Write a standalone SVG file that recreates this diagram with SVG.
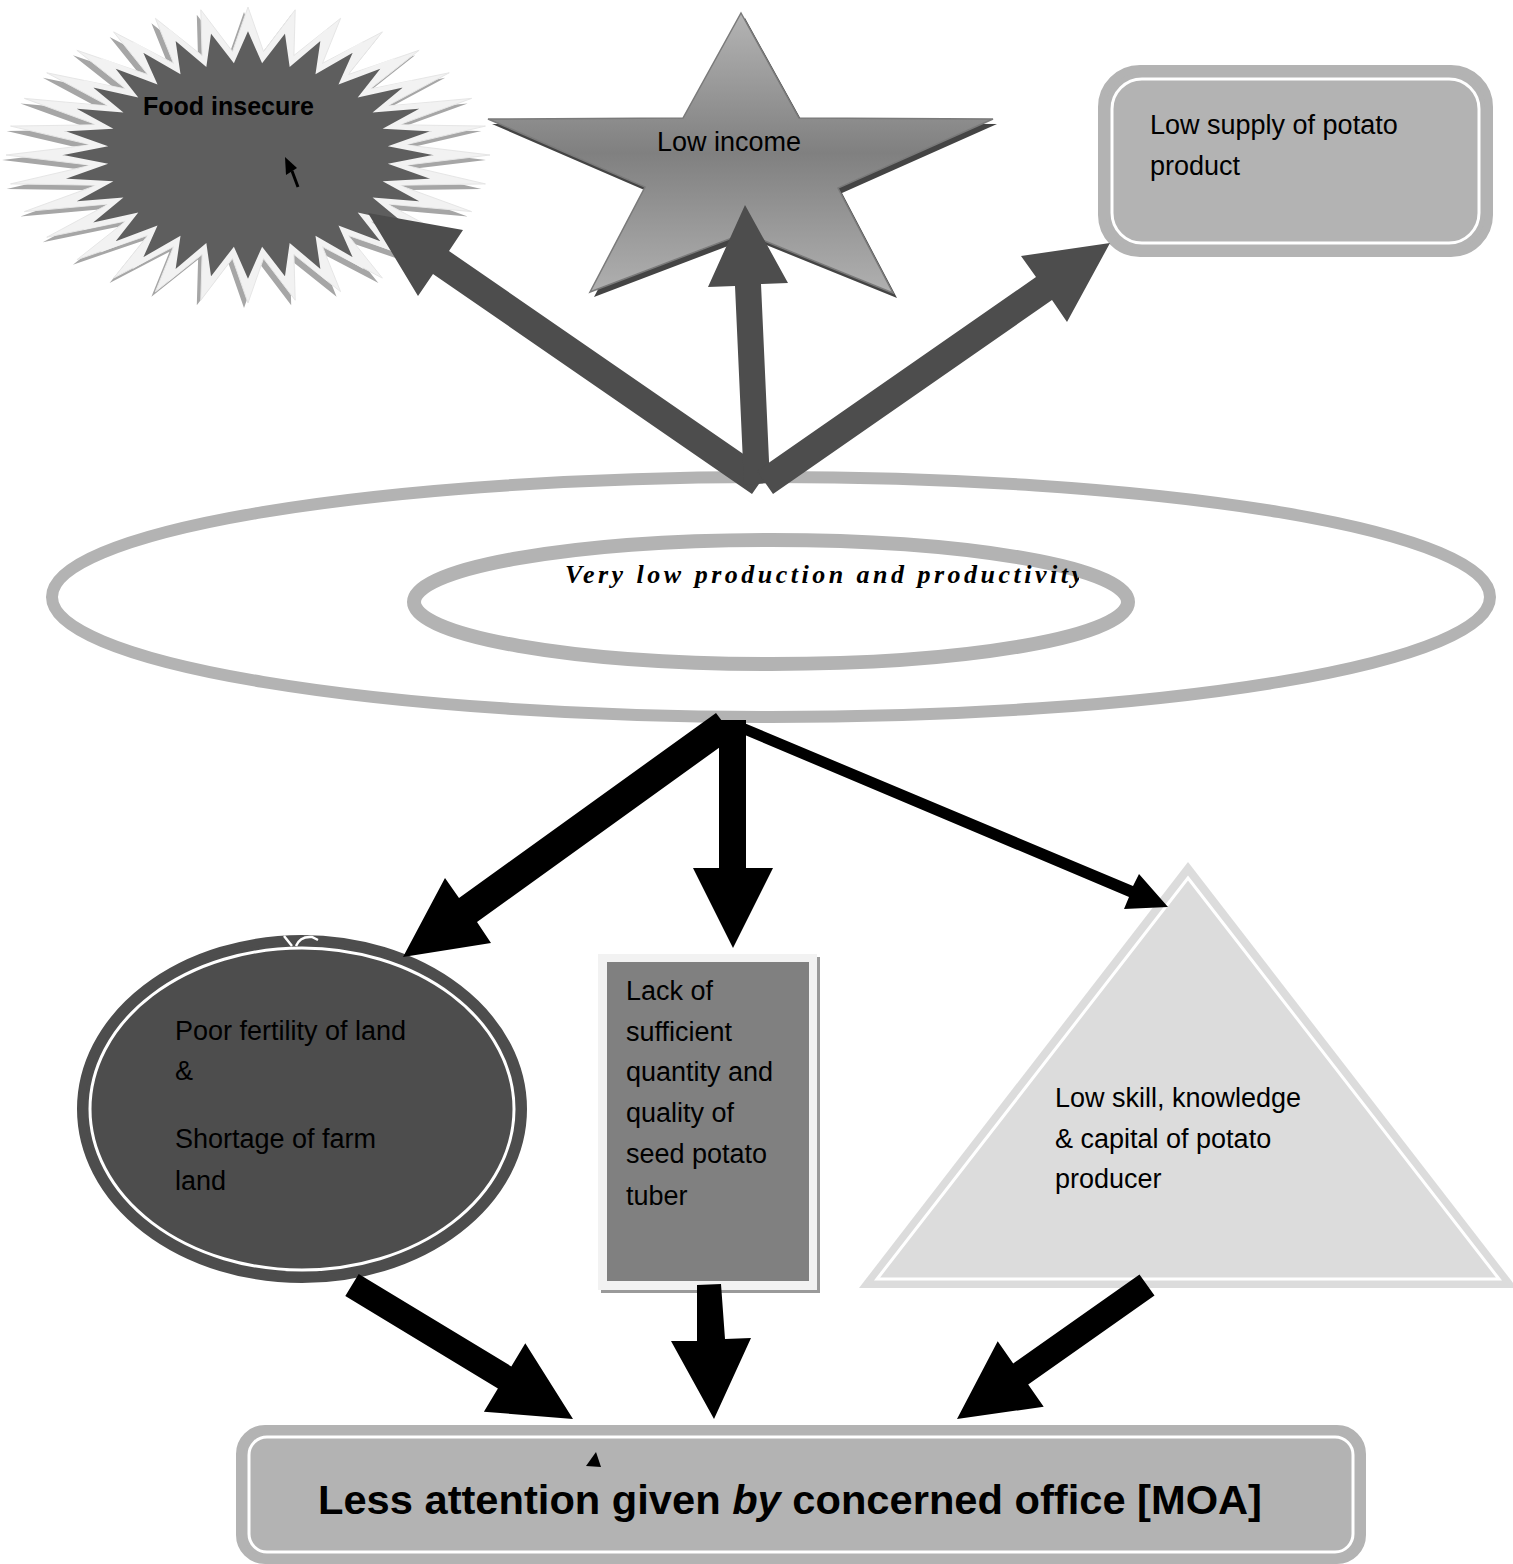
<svg xmlns="http://www.w3.org/2000/svg" width="1513" height="1564" viewBox="0 0 1513 1564">
  <defs>
    <style>
      .t { font-family: "Liberation Sans", Arial, sans-serif; font-size: 27px; fill: #000; }
      .tb { font-family: "Liberation Sans", Arial, sans-serif; font-weight: bold; fill: #000; }
      .ring { fill: none; stroke: #b3b3b3; }
      .up { fill: #4d4d4d; }
      .down { fill: #000; }
      .gap { fill: none; stroke: #fff; stroke-width: 3; }
    </style>
    <linearGradient id="starFill" x1="0" y1="0" x2="0" y2="1">
      <stop offset="0" stop-color="#b4b4b4"/>
      <stop offset="0.5" stop-color="#808080"/>
      <stop offset="1" stop-color="#b0b0b0"/>
    </linearGradient>
    <clipPath id="labelClip">
      <rect x="0" y="540" width="1079" height="80"/>
    </clipPath>
    <!-- outer halo of the 32-point burst -->
    <polygon id="burstHalo" points="490,155 405.2,165.2 485.4,183.9 399.2,185.2 471.6,211.6 387.3,204 449.2,237.2 370.1,221 419.1,259.7 348.2,235.4 382.4,278.1 322.5,246.7 340.6,291.7 293.9,254.5 295.2,300.2 263.5,258.5 248,303 232.5,258.5 200.8,300.2 202.1,254.5 155.4,291.7 173.5,246.7 113.6,278.1 147.8,235.4 76.9,259.7 125.9,221 46.8,237.2 108.7,204 24.4,211.6 96.8,185.2 10.6,183.9 90.8,165.2 6,155 90.8,144.8 10.6,126.1 96.8,124.8 24.4,98.4 108.7,106 46.8,72.8 125.9,89 76.9,50.3 147.8,74.6 113.6,31.9 173.5,63.3 155.4,18.3 202.1,55.5 200.8,9.8 232.5,51.5 248,7 263.5,51.5 295.2,9.8 293.9,55.5 340.6,18.3 322.5,63.3 382.4,31.9 348.2,74.6 419.1,50.3 370.1,89 449.2,72.8 387.3,106 471.6,98.4 399.2,124.8 485.4,126.1 405.2,144.8"/>
  </defs>

  <rect width="1513" height="1564" fill="#fff"/>

  <!-- 32-point burst -->
  <g id="food-insecure">
    <use href="#burstHalo" transform="translate(-4,5)" fill="#a6a6a6"/>
    <use href="#burstHalo" fill="#f2f2f2" stroke="#e6e6e6" stroke-width="1"/>
    <polygon fill="#5e5e5e" stroke="#f2f2f2" stroke-width="5" points="446,155 397.3,164.5 442.2,180.4 391.5,183.2 430.9,204.7 380.3,200.7 412.6,227.2 364,216.5 388,246.9 343.2,230 358,263.1 318.7,240.5 323.8,275.1 291.5,247.8 286.6,282.5 262.7,251.5 248,285 233.3,251.5 209.4,282.5 204.5,247.8 172.2,275.1 177.3,240.5 138,263.1 152.8,230 108,246.9 132,216.5 83.4,227.2 115.7,200.7 65.1,204.7 104.5,183.2 53.8,180.4 98.7,164.5 50,155 98.7,145.5 53.8,129.6 104.5,126.8 65.1,105.3 115.7,109.3 83.4,82.8 132,93.5 108,63.1 152.8,80 138,46.9 177.3,69.5 172.2,34.9 204.5,62.2 209.4,27.5 233.3,58.5 248,25 262.7,58.5 286.6,27.5 291.5,62.2 323.8,34.9 318.7,69.5 358,46.9 343.2,80 388,63.1 364,93.5 412.6,82.8 380.3,109.3 430.9,105.3 391.5,126.8 442.2,129.6 397.3,145.5"/>
    <text class="tb" x="143" y="115" font-size="25">Food insecure</text>
  </g>

  <!-- five-point star -->
  <g id="low-income">
    <polygon transform="translate(4,5)" fill="#444" points="741,13 799,118 993,119 838,188 893,293 745,233 590,292 645,187 488,119 683,118"/>
    <polygon fill="url(#starFill)" stroke="#7a7a7a" stroke-width="1.5" points="741,13 799,118 993,119 838,188 893,293 745,233 590,292 645,187 488,119 683,118"/>
    <text class="t" x="657" y="151">Low income</text>
  </g>

  <!-- rounded box, top right -->
  <g id="low-supply">
    <rect x="1102" y="69" width="387" height="184" rx="38" fill="#b3b3b3" stroke="#b3b3b3" stroke-width="8"/>
    <rect class="gap" x="1112" y="79" width="367" height="164" rx="30"/>
    <text class="t" x="1150" y="134">Low supply of potato</text>
    <text class="t" x="1150" y="175">product</text>
  </g>

  <!-- central double ellipse -->
  <g id="low-production">
    <ellipse class="ring" cx="771" cy="597" rx="719" ry="120" stroke-width="12"/>
    <ellipse class="ring" cx="771" cy="602" rx="357" ry="62" stroke-width="14"/>
    <text clip-path="url(#labelClip)" x="565" y="583" font-family="'Liberation Serif', 'DejaVu Serif', serif" font-size="26" font-weight="bold" font-style="italic" textLength="518" lengthAdjust="spacing">Very low production and productivity</text>
  </g>

  <!-- dark ellipse, lower left -->
  <g id="poor-fertility">
    <ellipse cx="302" cy="1109" rx="221" ry="170" fill="#4d4d4d" stroke="#4d4d4d" stroke-width="8"/>
    <ellipse class="gap" cx="302" cy="1109" rx="212" ry="161"/>
    <path d="M284,936 L292,946 M296,946 Q300,936 312,937 L318,940" fill="none" stroke="#fff" stroke-width="2.5"/>
    <text class="t" x="175" y="1040">Poor fertility of land</text>
    <text class="t" x="175" y="1080">&amp;</text>
    <text class="t" x="175" y="1148">Shortage of farm</text>
    <text class="t" x="175" y="1190">land</text>
  </g>

  <!-- framed rectangle, centre -->
  <g id="seed-shortage">
    <rect x="601" y="957" width="219" height="336" fill="#9a9a9a"/>
    <rect x="598" y="954" width="219" height="336" fill="#f2f2f2"/>
    <rect x="607" y="962" width="202" height="319" fill="#808080"/>
    <text class="t" x="626" y="1000">Lack of</text>
    <text class="t" x="626" y="1041">sufficient</text>
    <text class="t" x="626" y="1081">quantity and</text>
    <text class="t" x="626" y="1122">quality of</text>
    <text class="t" x="626" y="1163">seed potato</text>
    <text class="t" x="626" y="1205">tuber</text>
  </g>

  <!-- triangle, lower right -->
  <g id="low-skill">
    <polygon fill="#dcdcdc" points="1188,862 859,1288 1517,1288"/>
    <polygon class="gap" points="1188,878 877,1279 1499,1279"/>
    <text class="t" x="1055" y="1107">Low skill, knowledge</text>
    <text class="t" x="1055" y="1148">&amp; capital of potato</text>
    <text class="t" x="1055" y="1188">producer</text>
  </g>

  <!-- rounded box, bottom -->
  <g id="less-attention">
    <rect x="240" y="1429" width="1122" height="131" rx="25" fill="#b3b3b3" stroke="#b3b3b3" stroke-width="8"/>
    <rect class="gap" x="249" y="1437" width="1104" height="115" rx="18"/>
    <text class="tb" x="318" y="1514" font-size="40" textLength="944" lengthAdjust="spacingAndGlyphs">Less attention given <tspan font-style="italic">by</tspan> concerned office [MOA]</text>
  </g>

  <!-- connectors -->
  <g id="connectors">
    <!-- effects, from the central ellipse upward -->
    <polygon class="up" points="768,471 449,251 463,230 368,213 418,296 433,274 752,494"/>
    <polygon class="up" points="770,483 761,284 788,283 745,205 708,287 735,286 744,485"/>
    <polygon class="up" points="773,494 1052,300 1067,322 1110,243 1021,256 1036,277 757,471"/>

    <!-- causes, from the central ellipse downward -->
    <polygon class="down" points="716,713 459,898 445,878 403,957 491,943 477,922 734,737"/>
    <polygon class="down" points="719,720 746,720 746,868 773,868 733,948 693,868 719,868"/>
    <polygon class="down" points="733,730 1129,897 1124,909 1168,907 1139,874 1133,886 737,720"/>

    <!-- causes into the bottom box -->
    <polygon class="down" points="345.3,1296.1 497.9,1388.6 483.9,1411.7 573,1419 525.3,1343.3 511.3,1366.4 358.7,1273.9"/>
    <polygon class="down" points="697,1285 721,1284 725,1339 751,1338 714,1419 671,1341 697,1341"/>
    <polygon class="down" points="1139.5,1274.4 1013.2,1363.4 997.7,1341.3 957,1419 1043.7,1406.7 1028.2,1384.6 1154.5,1295.6"/>

    <!-- small pointers -->
    <line x1="292" y1="171" x2="298" y2="187" stroke="#000" stroke-width="3"/>
    <polygon class="down" points="285,157 286,175 297,168"/>
    <polygon class="down" points="596,1452 586,1466 601,1467"/>
  </g>
</svg>
